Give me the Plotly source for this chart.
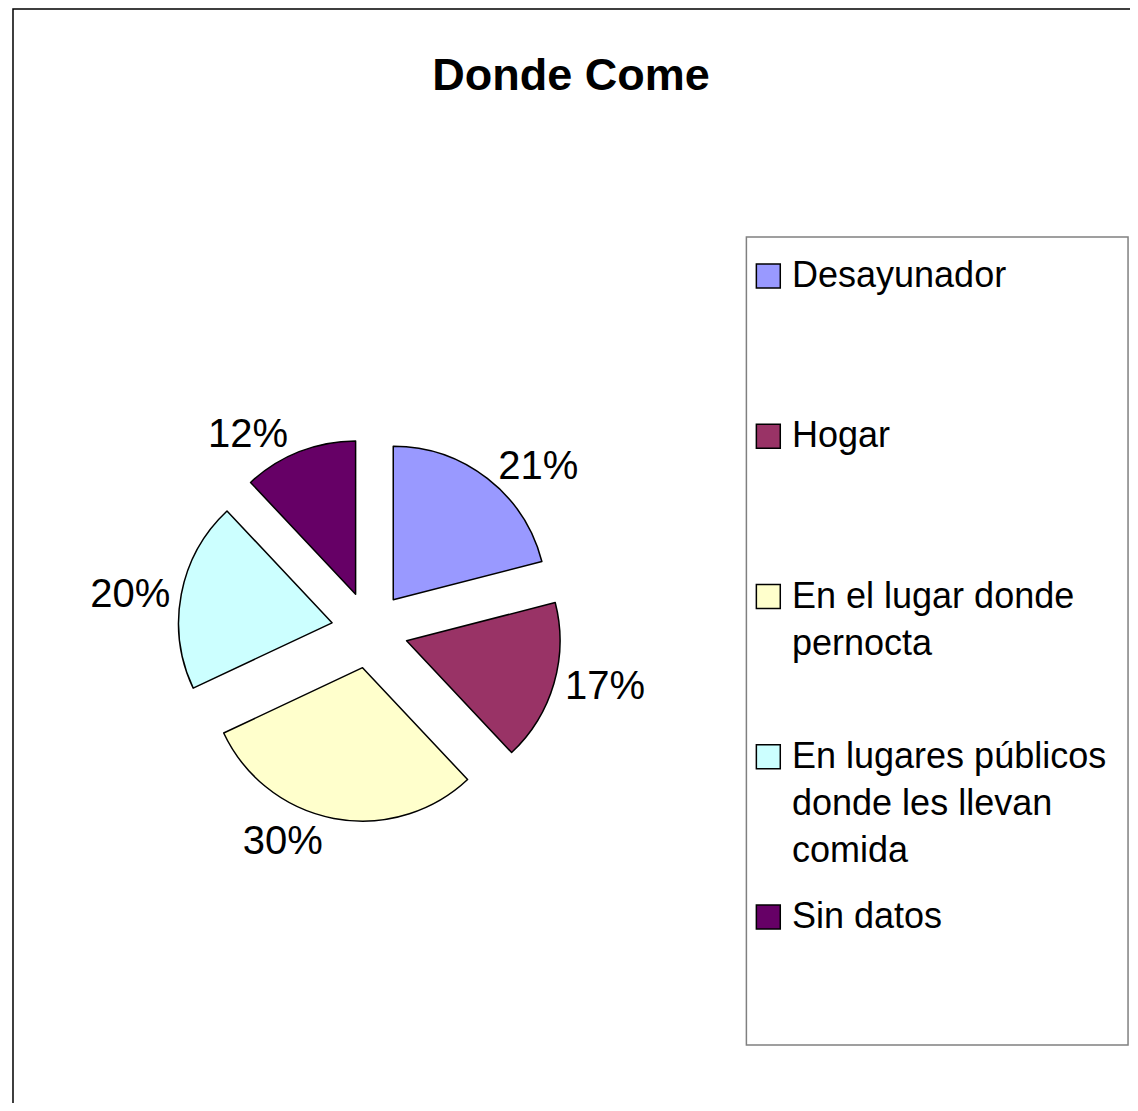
import plotly.graph_objects as go

# ---- data ----
labels = ["Desayunador", "Hogar", "En el lugar donde pernocta",
          "En lugares públicos donde les llevan comida", "Sin datos"]
legend_lines = [["Desayunador"], ["Hogar"], ["En el lugar donde", "pernocta"],
                ["En lugares públicos", "donde les llevan", "comida"], ["Sin datos"]]
values = [21, 17, 30, 20, 12]
colors = ["#9999FF", "#993366", "#FFFFCC", "#CCFFFF", "#660066"]
title_text = "Donde Come"

# page body has an 8px margin; keep figure inside the window (no scrollbars)
OFF = 8
W, H = 1138 - OFF, 1111 - 2 * OFF
FONT = "Liberation Sans, Arial, sans-serif"


def px(x):
    return (x - OFF) / W


def py(y):
    return 1 - (y - OFF) / H


# pie placement (screen pixels)
cx, cy, half = 367, 630, 192.5

fig = go.Figure()
fig.add_trace(go.Pie(
    labels=labels, values=values, sort=False, direction="clockwise", rotation=0,
    marker=dict(colors=colors, line=dict(color="black", width=1.5)),
    pull=[0.25] * len(values),
    textinfo="percent", textposition="outside",
    textfont=dict(family=FONT, size=40, color="black"),
    showlegend=False, hoverinfo="label+percent",
    domain=dict(x=[px(cx - half), px(cx + half)], y=[py(cy + half), py(cy - half)]),
))

shapes = [
    # outer frame
    dict(type="rect", xref="paper", yref="paper", x0=1 / W, x1=px(1136), y0=-0.05, y1=1 - 1 / H,
         line=dict(color="black", width=1.5), fillcolor="rgba(0,0,0,0)"),
    # legend box
    dict(type="rect", xref="paper", yref="paper", x0=px(745), x1=px(1128), y0=py(1045), y1=py(237),
         line=dict(color="#808080", width=1.5), fillcolor="rgba(0,0,0,0)"),
]
annotations = []
first_y, step = 276, 160.25
for i, (lines, col) in enumerate(zip(legend_lines, colors)):
    yc = first_y + i * step
    shapes.append(dict(type="rect", xref="paper", yref="paper",
                       x0=px(755), x1=px(779), y0=py(yc + 12), y1=py(yc - 12),
                       line=dict(color="black", width=1.5), fillcolor=col))
    annotations.append(dict(xref="paper", yref="paper", x=px(789), y=py(yc - 24),
                            xanchor="left", yanchor="top", align="left", showarrow=False,
                            text="<br>".join(lines),
                            font=dict(family=FONT, size=36, color="black")))

fig.update_layout(
    width=W, height=H, margin=dict(l=0, r=0, t=0, b=0),
    paper_bgcolor="white", plot_bgcolor="white",
    title=dict(text=title_text, x=px(571), xanchor="center", y=py(74), yanchor="middle",
               font=dict(family=FONT, size=45, color="black", weight="bold")),
    shapes=shapes, annotations=annotations,
)

fig.write_html("out.html")
